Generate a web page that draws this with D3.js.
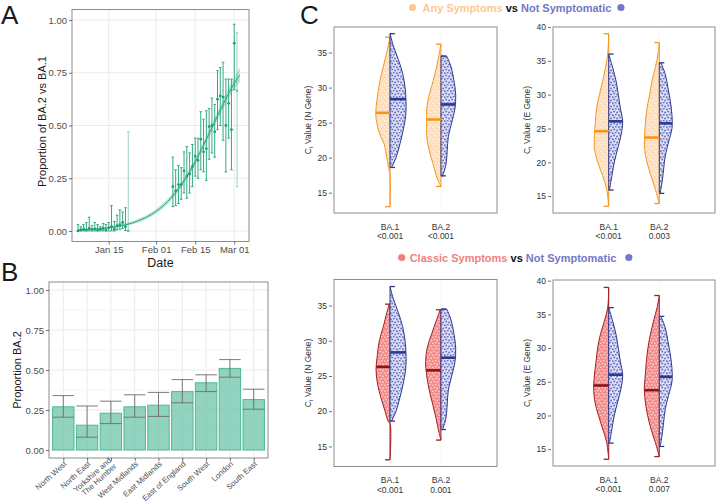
<!DOCTYPE html>
<html>
<head>
<meta charset="utf-8">
<script src="https://cdn.jsdelivr.net/npm/d3@7"></script>
<style>
  body { margin: 0; background: #fff; }
  svg { display: block; font-family: "Liberation Sans", Arial, Helvetica, sans-serif; }
</style>
</head>
<body>
<div id="chart"></div>
<script>
// ── Panel A: daily proportion of BA.2 vs BA.1 ─────────────────────────────────
const aDates = [
  '2022-01-04','2022-01-05','2022-01-06','2022-01-07','2022-01-08','2022-01-09',
  '2022-01-10','2022-01-11','2022-01-12','2022-01-13','2022-01-14','2022-01-15',
  '2022-01-16','2022-01-17','2022-01-18','2022-01-19','2022-01-20','2022-01-21',
  '2022-01-22',
  '2022-02-07','2022-02-08','2022-02-09','2022-02-10','2022-02-11','2022-02-12',
  '2022-02-13','2022-02-14','2022-02-15','2022-02-16','2022-02-17','2022-02-18',
  '2022-02-19','2022-02-20','2022-02-21','2022-02-22','2022-02-23','2022-02-24',
  '2022-02-25','2022-02-26','2022-02-27','2022-02-28','2022-03-01','2022-03-02'
];
const aProp = [
  0.000, 0.005, 0.008, 0.004, 0.012, 0.006, 0.010, 0.004, 0.008, 0.012, 0.004, 0.015,
  0.020, 0.008, 0.025, 0.030, 0.040, 0.020, 0.000,
  0.210, 0.190, 0.220, 0.220, 0.285, 0.260, 0.270, 0.305, 0.355, 0.335, 0.435, 0.375,
  0.390, 0.495, 0.500, 0.470, 0.625, 0.640, 0.635, 0.500, 0.605, 0.480, 0.890, 0.665
];
const aLow = [
  0, 0, 0, 0, 0, 0, 0, 0, 0, 0, 0, 0,
  0, 0, 0.005, 0.008, 0.012, 0.002, 0,
  0.115, 0.120, 0.130, 0.150, 0.180, 0.155, 0.180, 0.210, 0.260, 0.250, 0.290, 0.280,
  0.240, 0.340, 0.370, 0.350, 0.480, 0.500, 0.430, 0.280, 0.440, 0.290, 0.670, 0.210
];
const aHigh = [
  0.030, 0.020, 0.030, 0.040, 0.065, 0.025, 0.040, 0.030, 0.020, 0.035, 0.030, 0.040,
  0.120, 0.045, 0.075, 0.100, 0.090, 0.110, 0.470,
  0.350, 0.290, 0.310, 0.300, 0.375, 0.400, 0.370, 0.410, 0.440, 0.440, 0.565, 0.530,
  0.570, 0.580, 0.630, 0.600, 0.760, 0.775, 0.800, 0.720, 0.720, 0.720, 0.980, 0.940
];
const aFaint = ['2022-01-22', '2022-03-02'];   // days with few sequences

// fitted logistic trend + 95% band
const fitDates = ['2022-01-04','2022-01-11','2022-01-18','2022-01-25','2022-02-01','2022-02-05',
  '2022-02-09','2022-02-13','2022-02-17','2022-02-21','2022-02-25','2022-03-01','2022-03-03'];
const fitMid  = [0.005, 0.010, 0.021, 0.045, 0.093, 0.138, 0.200, 0.280, 0.380, 0.490, 0.600, 0.700, 0.740];
const fitLow  = [0.003, 0.007, 0.016, 0.038, 0.083, 0.126, 0.187, 0.266, 0.365, 0.472, 0.578, 0.672, 0.705];
const fitHigh = [0.008, 0.014, 0.027, 0.053, 0.104, 0.150, 0.213, 0.294, 0.395, 0.508, 0.622, 0.728, 0.775];

const aTicks = ['2022-01-15', '2022-02-01', '2022-02-15', '2022-03-01'];

// ── Panel B: proportion BA.2 by region ────────────────────────────────────────
const regions = ['North West','North East','Yorkshire and The Humber','West Midlands',
  'East Midlands','East of England','South West','London','South East'];
const regionLabels = [['North West'],['North East'],['Yorkshire and','The Humber'],['West Midlands'],
  ['East Midlands'],['East of England'],['South West'],['London'],['South East']];
const bProp = [0.270, 0.155, 0.230, 0.270, 0.280, 0.365, 0.420, 0.510, 0.315];
const bLow  = [0.205, 0.080, 0.165, 0.205, 0.210, 0.295, 0.365, 0.455, 0.255];
const bHigh = [0.340, 0.275, 0.305, 0.345, 0.360, 0.440, 0.470, 0.565, 0.380];
const propTicks = [0, 0.25, 0.5, 0.75, 1];

// ── Panel C: Ct values, half violins [Ct, relative density] ──────────────────
const variants = ['BA.1', 'BA.2'];

const anyN_BA1 = [[13.0,0],[17.5,0],[18,0.04],[20,0.2],[22,0.375],[23,0.58],[24,0.73],[25,0.83],[26,0.89],[27,0.875],[29,0.77],[31,0.625],[33,0.42],[35,0.2],[37.2,0]];
const anyN_BA2 = [[15.9,0],[17,0.23],[19,0.48],[21,0.73],[23,0.89],[25,0.89],[27,0.89],[29,0.73],[31,0.48],[33,0.27],[35,0.1],[36.2,0]];
const notN_BA1 = [[18.6,0.1],[20,0.375],[22,0.625],[24,0.83],[26,0.98],[28,1.0],[30,0.94],[32,0.79],[34,0.52],[36,0.2],[37.7,0]];
const notN_BA2 = [[17.4,0.1],[19,0.31],[21,0.39],[23,0.46],[25,0.67],[27,0.875],[29,0.92],[31,0.81],[33,0.625],[34.5,0.36]];
const classicN_BA1 = [[13.1,0],[18.3,0],[18.5,0.1],[20,0.31],[22,0.58],[24,0.79],[26,0.875],[28,0.79],[30,0.67],[32,0.42],[34,0.2],[35.2,0.05]];
const classicN_BA2 = [[15.9,0],[17,0.125],[19,0.31],[21,0.52],[23,0.73],[25,0.89],[27,0.96],[29,0.86],[31,0.58],[33,0.27],[34.4,0.05]];

const anyE_BA1 = [[13.5,0],[16,0.125],[18,0.375],[20,0.69],[22,0.89],[24,0.89],[26,0.83],[28,0.75],[30,0.58],[32,0.375],[34,0.2],[36,0.06],[39.0,0]];
const anyE_BA2 = [[13.9,0],[16,0.25],[18,0.52],[20,0.77],[22,0.92],[24,0.92],[26,0.86],[28,0.77],[30,0.6],[32,0.46],[34,0.25],[36,0.08],[37.7,0]];
const notE_BA1 = [[15.9,0.05],[18,0.2],[20,0.35],[22,0.56],[24,0.77],[26,0.875],[28,0.73],[30,0.6],[32,0.46],[34,0.25],[36.0,0]];
const notE_BA2 = [[15.4,0.05],[17,0.17],[19,0.27],[21,0.375],[23,0.58],[25,0.79],[27,0.79],[29,0.69],[31,0.54],[33,0.375],[34.7,0.1]];
const classicE_BA1 = [[13.5,0],[16,0.125],[18,0.375],[20,0.64],[22,0.86],[24,0.94],[26,0.89],[28,0.79],[30,0.69],[32,0.52],[34,0.27],[36,0.06],[39.0,0]];
const classicE_BA2 = [[13.9,0],[16,0.25],[18,0.52],[20,0.73],[22,0.875],[24,0.94],[26,0.875],[28,0.81],[30,0.71],[32,0.56],[34,0.36],[36,0.14],[37.8,0]];

const medAnyN = [26.4, 25.45],  medNotN = [28.35, 27.6],  medClassicN = [26.3, 25.8];
const medAnyE = [24.6, 23.65],  medNotE = [26.05, 25.75], medClassicE = [24.45, 23.75];

const pAnyN = ['<0.001', '<0.001'];
const pAnyE = ['<0.001', '0.003'];
const pClassicN = ['<0.001', '0.001'];
const pClassicE = ['<0.001', '0.007'];

const nTicks = [15, 20, 25, 30, 35];
const eTicks = [15, 20, 25, 30, 35, 40];

// ── Setup ─────────────────────────────────────────────────────────────────────
const parse = d3.timeParse('%Y-%m-%d');
const TXT = '#4d4d4d';
const GRID = '#ebebeb';
const BORDER = '#8c8c8c';

const svg = d3.select('#chart').append('svg').attr('width', 716).attr('height', 502);
const defs = svg.append('defs');

function styleAxis(ax, size) {
  ax.select('.domain').remove();
  ax.selectAll('line').attr('stroke', '#333').attr('stroke-width', 0.7);
  ax.selectAll('text').attr('fill', TXT).style('font-size', size + 'px');
}

function panelLetter(t, x, y) {
  svg.append('text').attr('x', x).attr('y', y).attr('fill', '#1a1a1a')
    .style('font-size', '26px').text(t);
}

// ── Panel A ───────────────────────────────────────────────────────────────────
(function drawA() {
  const L = 72, R = 249, T = 9.5, B = 241.5;
  const x = d3.scaleTime().domain([new Date(2022, 0, 1, 20), new Date(2022, 2, 6, 7)]).range([L, R]);
  const y = d3.scaleLinear().domain([-0.05, 1.05]).range([B, T]);
  const g = svg.append('g');

  g.append('rect').attr('x', L).attr('y', T).attr('width', R - L).attr('height', B - T).attr('fill', '#fff');
  propTicks.forEach(v => g.append('line').attr('x1', L).attr('x2', R).attr('y1', y(v)).attr('y2', y(v))
    .attr('stroke', GRID).attr('stroke-width', 1));
  aTicks.map(parse).forEach(d => g.append('line').attr('x1', x(d)).attr('x2', x(d)).attr('y1', T).attr('y2', B)
    .attr('stroke', GRID).attr('stroke-width', 1));

  // trend band + line
  const fit = fitDates.map((d, i) => ({ date: parse(d), mid: fitMid[i], lo: fitLow[i], hi: fitHigh[i] }));
  g.append('path').datum(fit)
    .attr('d', d3.area().x(d => x(d.date)).y0(d => y(d.lo)).y1(d => y(d.hi)).curve(d3.curveMonotoneX))
    .attr('fill', '#a3dbc7').attr('opacity', 0.75);
  g.append('path').datum(fit)
    .attr('d', d3.line().x(d => x(d.date)).y(d => y(d.mid)).curve(d3.curveMonotoneX))
    .attr('fill', 'none').attr('stroke', '#2aa57f').attr('stroke-width', 1);

  // daily points with CI
  const pts = aDates.map((d, i) => ({ key: d, date: parse(d), p: aProp[i], lo: aLow[i], hi: aHigh[i] }));
  pts.forEach(d => {
    const op = aFaint.includes(d.key) ? 0.5 : 1;
    const cx = x(d.date);
    const e = g.append('g').attr('opacity', op).attr('stroke', '#2fab84').attr('stroke-width', 1);
    e.append('line').attr('x1', cx).attr('x2', cx).attr('y1', y(d.lo)).attr('y2', y(d.hi));
    e.append('line').attr('x1', cx - 1.3).attr('x2', cx + 1.3).attr('y1', y(d.hi)).attr('y2', y(d.hi));
    e.append('line').attr('x1', cx - 1.3).attr('x2', cx + 1.3).attr('y1', y(d.lo)).attr('y2', y(d.lo));
    g.append('circle').attr('cx', cx).attr('cy', y(d.p)).attr('r', 1.4)
      .attr('fill', '#1f9e78').attr('opacity', op);
  });

  g.append('rect').attr('x', L).attr('y', T).attr('width', R - L).attr('height', B - T)
    .attr('fill', 'none').attr('stroke', BORDER).attr('stroke-width', 1);

  g.append('g').attr('transform', `translate(0,${B})`)
    .call(d3.axisBottom(x).tickValues(aTicks.map(parse)).tickFormat(d3.timeFormat('%b %d')).tickSize(3).tickPadding(2))
    .call(ax => styleAxis(ax, 9.5));
  g.append('g').attr('transform', `translate(${L},0)`)
    .call(d3.axisLeft(y).tickValues(propTicks).tickFormat(d => d.toFixed(2)).tickSize(3).tickPadding(2))
    .call(ax => styleAxis(ax, 9.5));

  g.append('text').attr('x', (L + R) / 2).attr('y', 267).attr('text-anchor', 'middle')
    .attr('fill', '#1a1a1a').style('font-size', '12.5px').text('Date');
  g.append('text').attr('transform', `translate(46,${(T + B) / 2 - 4}) rotate(-90)`).attr('text-anchor', 'middle')
    .attr('fill', '#1a1a1a').style('font-size', '11px').text('Proportion of BA.2 vs BA.1');
})();

// ── Panel B ───────────────────────────────────────────────────────────────────
(function drawB() {
  const L = 49, R = 268, T = 282, B = 458;
  const x = d3.scalePoint().domain(regions).range([L, R]).padding(0.6);
  const y = d3.scaleLinear().domain([-0.05, 1.05]).range([B, T]);
  const bw = x.step() * 0.9;
  const g = svg.append('g');

  g.append('rect').attr('x', L).attr('y', T).attr('width', R - L).attr('height', B - T).attr('fill', '#fff');
  [0.125, 0.375, 0.625, 0.875].forEach(v => g.append('line').attr('x1', L).attr('x2', R)
    .attr('y1', y(v)).attr('y2', y(v)).attr('stroke', '#f4f4f4').attr('stroke-width', 0.8));
  propTicks.forEach(v => g.append('line').attr('x1', L).attr('x2', R).attr('y1', y(v)).attr('y2', y(v))
    .attr('stroke', GRID).attr('stroke-width', 1));
  regions.forEach(r => g.append('line').attr('x1', x(r)).attr('x2', x(r)).attr('y1', T).attr('y2', B)
    .attr('stroke', GRID).attr('stroke-width', 1));

  regions.forEach((r, i) => {
    g.append('rect').attr('x', x(r) - bw / 2).attr('y', y(bProp[i]))
      .attr('width', bw).attr('height', y(0) - y(bProp[i]))
      .attr('fill', '#66c2a5').attr('fill-opacity', 0.72)
      .attr('stroke', '#4fb992').attr('stroke-width', 1);
    const e = g.append('g').attr('stroke', '#6b6b6b').attr('stroke-width', 0.9);
    e.append('line').attr('x1', x(r)).attr('x2', x(r)).attr('y1', y(bLow[i])).attr('y2', y(bHigh[i]));
    e.append('line').attr('x1', x(r) - bw / 2).attr('x2', x(r) + bw / 2).attr('y1', y(bHigh[i])).attr('y2', y(bHigh[i]));
    e.append('line').attr('x1', x(r) - bw / 2).attr('x2', x(r) + bw / 2).attr('y1', y(bLow[i])).attr('y2', y(bLow[i]));
  });

  g.append('rect').attr('x', L).attr('y', T).attr('width', R - L).attr('height', B - T)
    .attr('fill', 'none').attr('stroke', BORDER).attr('stroke-width', 1);

  g.append('g').attr('transform', `translate(${L},0)`)
    .call(d3.axisLeft(y).tickValues(propTicks).tickFormat(d => d.toFixed(2)).tickSize(3).tickPadding(2))
    .call(ax => styleAxis(ax, 9.5));

  g.append('g').attr('transform', `translate(0,${B})`)
    .call(d3.axisBottom(x).tickSize(3).tickFormat(''))
    .call(ax => styleAxis(ax, 8));
  regions.forEach((r, i) => {
    const lines = regionLabels[i];
    const t = g.append('text')
      .attr('transform', `translate(${x(r) + 1.5},${B + 4}) rotate(-42)`)
      .attr('text-anchor', 'end').attr('fill', TXT).style('font-size', '7.8px');
    lines.forEach((ln, j) => t.append('tspan').attr('x', 0)
      .attr('dy', j === 0 ? (lines.length > 1 ? '-0.15em' : '0.45em') : '1.0em').text(ln));
  });

  g.append('text').attr('transform', `translate(21,${(T + B) / 2}) rotate(-90)`).attr('text-anchor', 'middle')
    .attr('fill', '#1a1a1a').style('font-size', '11px').text('Proportion BA.2');
})();

// ── Panel C ───────────────────────────────────────────────────────────────────
function dotPattern(id, bg, dot, r) {
  const p = defs.append('pattern').attr('id', id).attr('patternUnits', 'userSpaceOnUse')
    .attr('width', 6).attr('height', 6);
  p.append('rect').attr('width', 6).attr('height', 6).attr('fill', bg);
  [[0.8, 1.2], [3.7, 0.6], [2.2, 3.5], [5.1, 4.4]].forEach(([cx, cy]) =>
    p.append('circle').attr('cx', cx).attr('cy', cy).attr('r', r).attr('fill', dot));
}
dotPattern('dots-orange', '#fddcb8', '#fff3e6', 0.9);
dotPattern('dots-blue', '#dfe1f3', '#6a72c4', 1.0);
dotPattern('dots-red', '#f28e8e', '#fcdcdc', 0.8);

const ORANGE = { pattern: 'dots-orange', stroke: '#f7941d', median: '#f7941d' };
const BLUE   = { pattern: 'dots-blue',   stroke: '#2e3a8a', median: '#2b3a8c' };
const RED    = { pattern: 'dots-red',    stroke: '#a51c20', median: '#8b1515' };

const violinW = d3.scaleLinear().domain([0, 1]).range([0, 16]);

function halfViolin(g, cx, y, prof, side, st, med) {
  const area = d3.area().curve(d3.curveCatmullRom)
    .y(d => y(d[0])).x0(cx).x1(d => cx + side * violinW(d[1]));
  g.append('path').datum(prof).attr('d', area)
    .attr('fill', `url(#${st.pattern})`).attr('stroke', st.stroke)
    .attr('stroke-width', 1).attr('stroke-linejoin', 'round');
  const lo = prof[0][0], hi = prof[prof.length - 1][0];
  [lo, hi].forEach(v => g.append('line').attr('x1', cx).attr('x2', cx + side * 5)
    .attr('y1', y(v)).attr('y2', y(v)).attr('stroke', st.stroke).attr('stroke-width', 1.3));
  const dens = d3.scaleLinear().domain(prof.map(d => d[0])).range(prof.map(d => d[1]));
  return () => g.append('line').attr('x1', cx).attr('x2', cx + side * Math.max(violinW(dens(med)), 6))
    .attr('y1', y(med)).attr('y2', y(med)).attr('stroke', st.median).attr('stroke-width', 2.6);
}

function violinPanel(cfg) {
  const g = svg.append('g');
  const x = d3.scalePoint().domain(variants).range([cfg.L, cfg.R]).padding(1.1);
  const y = d3.scaleLinear().domain(cfg.yDomain).range([cfg.B, cfg.T]);

  g.append('rect').attr('x', cfg.L).attr('y', cfg.T).attr('width', cfg.R - cfg.L).attr('height', cfg.B - cfg.T)
    .attr('fill', '#fff');
  variants.forEach(v => g.append('line').attr('x1', x(v)).attr('x2', x(v)).attr('y1', cfg.T).attr('y2', cfg.B)
    .attr('stroke', '#e6e6e6').attr('stroke-width', 0.8).attr('stroke-dasharray', '1,1.5'));

  const medians = [];
  variants.forEach((v, i) => {
    medians.push(halfViolin(g, x(v), y, cfg.leftProf[i], -1, cfg.leftStyle, cfg.leftMed[i]));
    medians.push(halfViolin(g, x(v), y, cfg.rightProf[i], 1, BLUE, cfg.rightMed[i]));
  });
  medians.forEach(f => f());

  g.append('rect').attr('x', cfg.L).attr('y', cfg.T).attr('width', cfg.R - cfg.L).attr('height', cfg.B - cfg.T)
    .attr('fill', 'none').attr('stroke', BORDER).attr('stroke-width', 1);

  g.append('g').attr('transform', `translate(${cfg.L - 2},0)`)
    .call(d3.axisLeft(y).tickValues(cfg.ticks).tickSize(3).tickPadding(2))
    .call(ax => styleAxis(ax, 8.5))
    .call(ax => ax.selectAll('text').attr('fill', '#333'));

  variants.forEach((v, i) => {
    g.append('text').attr('x', x(v)).attr('y', cfg.B + 16.8).attr('text-anchor', 'middle')
      .attr('fill', '#333').style('font-size', '8.5px').text(v);
    g.append('text').attr('x', x(v)).attr('y', cfg.B + 26.3).attr('text-anchor', 'middle')
      .attr('fill', '#333').style('font-size', '8.5px').text(cfg.pvals[i]);
  });

  const t = g.append('text').attr('transform', `translate(${cfg.titleX},${(cfg.T + cfg.B) / 2}) rotate(-90)`)
    .attr('text-anchor', 'middle').attr('fill', '#333').style('font-size', '8.5px');
  t.append('tspan').text('C');
  t.append('tspan').attr('dy', 2).style('font-size', '6px').text('t');
  t.append('tspan').attr('dy', -2).text(` Value (${cfg.gene} Gene)`);
}

function header(cx, y, parts, dotL, dotR, gapL, gapR) {
  const t = svg.append('text').attr('y', y).style('font-size', '11px').style('font-weight', 'bold');
  parts.forEach(p => t.append('tspan').attr('fill', p.color).text(p.text));
  const len = t.node().getComputedTextLength();
  t.attr('x', cx - len / 2);
  svg.append('circle').attr('cx', cx - len / 2 - gapL).attr('cy', y - 4).attr('r', 3.6).attr('fill', dotL);
  svg.append('circle').attr('cx', cx + len / 2 + gapR).attr('cy', y - 4).attr('r', 3.6).attr('fill', dotR);
}

header(517, 11.5, [
  { text: 'Any Symptoms', color: '#fdc890' },
  { text: ' vs ', color: '#111' },
  { text: 'Not Symptomatic', color: '#7378c4' }
], '#fdc890', '#7378c4', 10, 9.5);

header(513, 261.5, [
  { text: 'Classic Symptoms', color: '#f08080' },
  { text: ' vs ', color: '#111' },
  { text: 'Not Symptomatic', color: '#7378c4' }
], '#f08080', '#7378c4', 8, 12.5);

violinPanel({ L: 334, R: 497, T: 27, B: 213, yDomain: [12.1, 38.65], ticks: nTicks, gene: 'N', titleX: 311,
  leftProf: [anyN_BA1, anyN_BA2], rightProf: [notN_BA1, notN_BA2], leftMed: medAnyN, rightMed: medNotN,
  leftStyle: ORANGE, pvals: pAnyN });
violinPanel({ L: 553, R: 715, T: 27, B: 213, yDomain: [12.5, 40.0], ticks: eTicks, gene: 'E', titleX: 530,
  leftProf: [anyE_BA1, anyE_BA2], rightProf: [notE_BA1, notE_BA2], leftMed: medAnyE, rightMed: medNotE,
  leftStyle: ORANGE, pvals: pAnyE });
violinPanel({ L: 334, R: 497, T: 279.5, B: 466.5, yDomain: [12.15, 38.7], ticks: nTicks, gene: 'N', titleX: 311,
  leftProf: [classicN_BA1, classicN_BA2], rightProf: [notN_BA1, notN_BA2], leftMed: medClassicN, rightMed: medNotN,
  leftStyle: RED, pvals: pClassicN });
violinPanel({ L: 553, R: 715, T: 280, B: 466, yDomain: [12.5, 40.1], ticks: eTicks, gene: 'E', titleX: 530,
  leftProf: [classicE_BA1, classicE_BA2], rightProf: [notE_BA1, notE_BA2], leftMed: medClassicE, rightMed: medNotE,
  leftStyle: RED, pvals: pClassicE });

panelLetter('A', 1, 24);
panelLetter('B', 1, 281);
panelLetter('C', 300, 24);
</script>
</body>
</html>
